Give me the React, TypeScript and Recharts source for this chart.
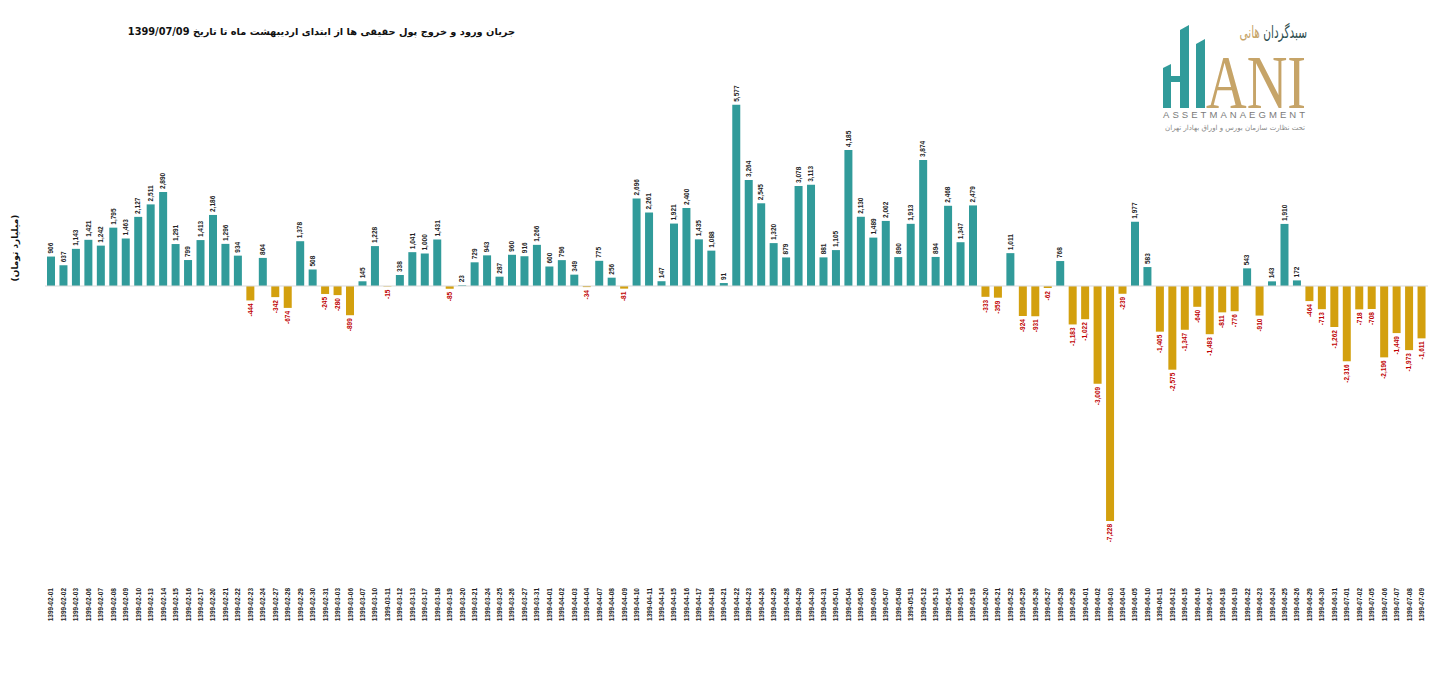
import { BarChart, Bar, XAxis, YAxis, Cell, LabelList, ReferenceLine } from 'recharts';

// dates (Jalali) of each trading day
const dates = [
  '1399-02-01', '1399-02-02', '1399-02-03', '1399-02-06', '1399-02-07', '1399-02-08', '1399-02-09', '1399-02-10',
  '1399-02-13', '1399-02-14', '1399-02-15', '1399-02-16', '1399-02-17', '1399-02-20', '1399-02-21', '1399-02-22',
  '1399-02-23', '1399-02-24', '1399-02-27', '1399-02-28', '1399-02-29', '1399-02-30', '1399-02-31', '1399-03-03',
  '1399-03-06', '1399-03-07', '1399-03-10', '1399-03-11', '1399-03-12', '1399-03-13', '1399-03-17', '1399-03-18',
  '1399-03-19', '1399-03-20', '1399-03-21', '1399-03-24', '1399-03-25', '1399-03-26', '1399-03-27', '1399-03-31',
  '1399-04-01', '1399-04-02', '1399-04-03', '1399-04-04', '1399-04-07', '1399-04-08', '1399-04-09', '1399-04-10',
  '1399-04-11', '1399-04-14', '1399-04-15', '1399-04-16', '1399-04-17', '1399-04-18', '1399-04-21', '1399-04-22',
  '1399-04-23', '1399-04-24', '1399-04-25', '1399-04-28', '1399-04-29', '1399-04-30', '1399-04-31', '1399-05-01',
  '1399-05-04', '1399-05-05', '1399-05-06', '1399-05-07', '1399-05-08', '1399-05-11', '1399-05-12', '1399-05-13',
  '1399-05-14', '1399-05-15', '1399-05-19', '1399-05-20', '1399-05-21', '1399-05-22', '1399-05-25', '1399-05-26',
  '1399-05-27', '1399-05-28', '1399-05-29', '1399-06-01', '1399-06-02', '1399-06-03', '1399-06-04', '1399-06-05',
  '1399-06-10', '1399-06-11', '1399-06-12', '1399-06-15', '1399-06-16', '1399-06-17', '1399-06-18', '1399-06-19',
  '1399-06-22', '1399-06-23', '1399-06-24', '1399-06-25', '1399-06-26', '1399-06-29', '1399-06-30', '1399-06-31',
  '1399-07-01', '1399-07-02', '1399-07-05', '1399-07-06', '1399-07-07', '1399-07-08', '1399-07-09',
];

// net flow of individual money (billion toman)
const flows = [
  906, 637, 1143, 1421, 1242, 1795, 1463, 2127,
  2511, 2890, 1291, 799, 1413, 2186, 1296, 934,
  -444, 864, -342, -674, 1378, 508, -245, -280,
  -899, 145, 1228, -15, 338, 1041, 1000, 1431,
  -85, 23, 729, 943, 287, 960, 916, 1266,
  600, 796, 349, -34, 775, 256, -81, 2696,
  2261, 147, 1921, 2400, 1435, 1088, 91, 5577,
  3264, 2545, 1320, 879, 3078, 3113, 881, 1105,
  4185, 2130, 1489, 2002, 890, 1913, 3874, 894,
  2468, 1347, 2479, -333, -359, 1011, -924, -931,
  -62, 768, -1183, -1022, -3009, -7228, -239, 1977,
  583, -1405, -2575, -1347, -640, -1483, -811, -776,
  543, -910, 143, 1910, 172, -464, -713, -1262,
  -2316, -718, -708, -2196, -1449, -1973, -1611,
];

const data = dates.map((d, i) => ({ date: d, value: flows[i] }));

const TEAL = '#319b9a';
const GOLD = '#d3a00e';
const FONT = '"Liberation Sans", Arial, sans-serif';
const FA_FONT = '"DejaVu Sans", sans-serif';

const DateTick = (props: any) => {
  const { x, y, payload } = props;
  const ty = y + 34;
  return (
    <text
      x={x}
      y={ty}
      dy="0.35em"
      transform={`rotate(-90, ${x}, ${ty})`}
      textAnchor="end"
      fontSize={6.5}
      fontWeight="bold"
      fontFamily={FONT}
      fill="#222"
    >
      {payload.value}
    </text>
  );
};

const ValueLabel = (props: any) => {
  const { x, y, width, height, value } = props;
  const cx = Number(x) + Number(width) / 2;
  const top = Math.min(Number(y), Number(y) + Number(height));
  const bottom = Math.max(Number(y), Number(y) + Number(height));
  const neg = value < 0;
  const ay = neg ? bottom + 3 : top - 3;
  return (
    <text
      x={cx}
      y={ay}
      dy="0.35em"
      transform={`rotate(-90, ${cx}, ${ay})`}
      textAnchor={neg ? 'end' : 'start'}
      fontSize={6.5}
      fontWeight="bold"
      fontFamily={FONT}
      fill={neg ? '#c00000' : '#222'}
    >
      {Number(value).toLocaleString('en-US')}
    </text>
  );
};

function Logo() {
  return (
    <div style={{ position: 'absolute', left: 1155, top: 18, width: 160, height: 120 }}>
      <svg width={160} height={104} style={{ position: 'absolute', left: 0, top: 0, overflow: 'visible' }}>
        <polygon points="8,50 16,46 16,90 8,90" fill={TEAL} />
        <polygon points="25,12 34,7 34,90 25,90" fill={TEAL} />
        <rect x={16} y={58} width={9} height={6} fill={TEAL} />
        <polygon points="41,26 50,21 50,90 41,90" fill={TEAL} />
        <text
          x={51}
          y={90}
          fontFamily='"Liberation Serif", serif'
          fontSize={76}
          fill="#c6a468"
          textLength={100}
          lengthAdjust="spacingAndGlyphs"
        >
          ANI
        </text>
        <text x={8} y={100} fontFamily={FONT} fontSize={9.5} fill="#7a7a7a" textLength={142} lengthAdjust="spacing">
          ASSETMANAEGMENT
        </text>
      </svg>
      <div
        dir="rtl"
        style={{
          position: 'absolute',
          right: 8,
          top: 4,
          fontFamily: FA_FONT,
          fontSize: 17,
          lineHeight: '20px',
          whiteSpace: 'nowrap',
          transform: 'scaleX(0.62)',
          transformOrigin: 'right center',
        }}
      >
        <span style={{ color: '#2f4f4f' }}>سبدگردان </span>
        <span style={{ color: '#c6a468' }}>هانی</span>
      </div>
      <div
        dir="rtl"
        style={{
          position: 'absolute',
          right: 10,
          top: 106,
          fontFamily: FA_FONT,
          fontSize: 7,
          lineHeight: '9px',
          color: '#888',
          whiteSpace: 'nowrap',
        }}
      >
        تحت نظارت سازمان بورس و اوراق بهادار تهران
      </div>
    </div>
  );
}

export default function App() {
  return (
    <div style={{ position: 'absolute', left: 0, top: 0, width: 1438, height: 677, background: '#fff' }}>
      <BarChart
        width={1438}
        height={677}
        data={data}
        margin={{ top: 91, right: 10, left: 45, bottom: 0 }}
        barSize={8}
      >
        <XAxis
          dataKey="date"
          height={131}
          interval={0}
          axisLine={false}
          tickLine={false}
          tick={<DateTick />}
        />
        <YAxis hide domain={[-8000, 6000]} />
        <ReferenceLine y={0} stroke="#d9d9d9" strokeWidth={1} />
        <Bar dataKey="value" isAnimationActive={false}>
          {data.map((d, i) => (
            <Cell key={i} fill={d.value < 0 ? GOLD : TEAL} />
          ))}
          <LabelList dataKey="value" content={<ValueLabel />} />
        </Bar>
      </BarChart>

      <div
        dir="rtl"
        style={{
          position: 'absolute',
          right: 1438 - 515,
          top: 26,
          fontFamily: FA_FONT,
          fontWeight: 'bold',
          fontSize: 9.8,
          color: '#111',
          whiteSpace: 'nowrap',
        }}
      >
        جریان ورود و خروج پول حقیقی ها از ابتدای اردیبهشت ماه تا تاریخ 1399/07/09
      </div>

      <div
        dir="rtl"
        style={{
          position: 'absolute',
          left: 15,
          top: 248,
          transform: 'translate(-50%, -50%) rotate(-90deg)',
          fontFamily: FA_FONT,
          fontWeight: 'bold',
          fontSize: 9,
          color: '#111',
          whiteSpace: 'nowrap',
        }}
      >
        (میلیارد تومان)
      </div>

      <Logo />
    </div>
  );
}
